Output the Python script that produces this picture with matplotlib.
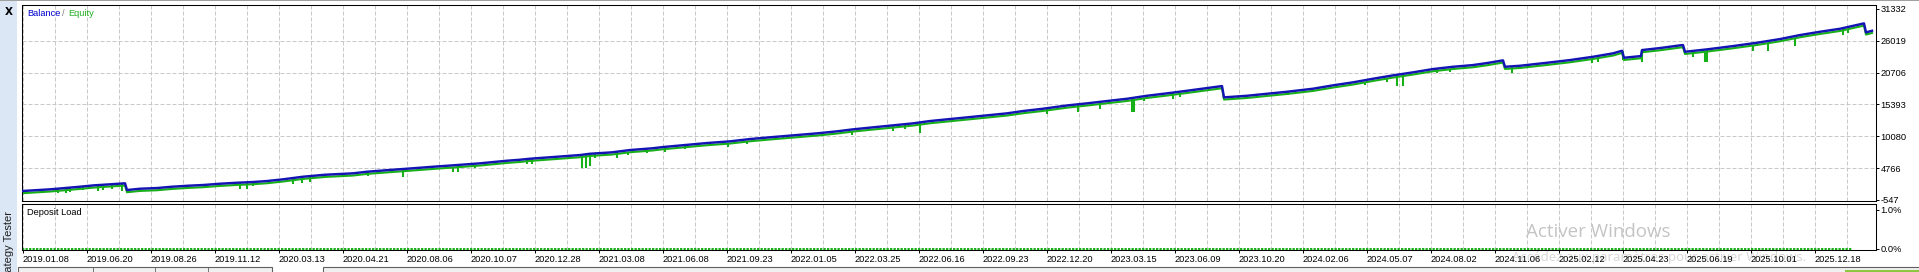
import numpy as np
import matplotlib.pyplot as plt
import matplotlib.transforms as mtransforms
from matplotlib.patches import Rectangle

W, H = 1919, 272

# balance curve: deal index -> account balance
bal_idx = [0, 28, 43, 58, 72, 88, 103, 105, 118, 135, 150, 166, 181, 198, 215, 231,
           245, 261, 281, 303, 331, 345, 371, 385, 411, 435, 458, 485, 498, 508, 531,
           558, 568, 590, 608, 630, 641, 663, 685, 708, 728, 751, 775, 795, 815, 831,
           851, 871, 891, 908, 925, 945, 965, 985, 1001, 1021, 1046, 1065, 1085, 1105,
           1125, 1145, 1165, 1185, 1200, 1202, 1225, 1245, 1265, 1291, 1311, 1331,
           1351, 1371, 1391, 1411, 1431, 1451, 1465, 1481, 1483, 1498, 1525, 1548,
           1571, 1591, 1600, 1602, 1619, 1620, 1638, 1658, 1661, 1663, 1685, 1711,
           1735, 1758, 1778, 1798, 1818, 1842, 1844, 1850]
bal_val = [920, 1205, 1420, 1640, 1870, 2040, 2210, 1090, 1305, 1420, 1640, 1805, 1925,
           2140, 2305, 2425, 2590, 2875, 3310, 3640, 3875, 4145, 4475, 4645, 4975, 5260,
           5545, 5980, 6145, 6315, 6595, 6930, 7145, 7380, 7765, 8050, 8265, 8600, 8935,
           9215, 9600, 9935, 10270, 10550, 10885, 11220, 11555, 11885, 12220, 12605,
           12890, 13220, 13555, 13890, 14275, 14660, 15225, 15560, 15945, 16325, 16825,
           17230, 17660, 18110, 18445, 16560, 16825, 17160, 17495, 18000, 18565, 19065,
           19665, 20230, 20735, 21285, 21665, 21950, 22285, 22735, 21665, 21835, 22335,
           22785, 23335, 23905, 24340, 23170, 23455, 24455, 24790, 25240, 25290, 24170,
           24570, 25120, 25675, 26290, 26960, 27510, 28010, 28910, 27410, 27675]

# equity drawdown spikes: deal index -> lowest equity
dip_idx = [36, 44, 48, 61, 76, 81, 90, 100, 218, 225, 231, 271, 280, 288, 346, 381,
           431, 436, 453, 505, 510, 560, 564, 568, 573, 595, 606, 625, 643, 663, 706,
           725, 761, 830, 871, 883, 898, 1025, 1056, 1078, 1110, 1112, 1122, 1151, 1158,
           1216, 1266, 1343, 1365, 1375, 1381, 1415, 1428, 1490, 1505, 1570, 1576, 1601,
           1620, 1651, 1671, 1683, 1685, 1731, 1746, 1773, 1821, 1826, 1846]
dip_low = [671, 538, 755, 1089, 922, 1089, 1256, 922, 1205, 1205, 1756, 2090, 2340, 2424,
           3425, 3308, 4043, 4043, 4710, 5378, 5378, 4710, 4710, 5094, 6379, 6379, 6930,
           7214, 7381, 7932, 8315, 8766, 9601, 10218, 10986, 11219, 10552, 13723, 14057,
           14557, 14157, 14157, 15993, 16226, 16660, 16393, 16894, 18563, 19164, 18496,
           18496, 20666, 20833, 20566, 21400, 22235, 22502, 22786, 22402, 24571, 23337,
           22502, 22502, 24338, 24338, 25122, 26958, 27242, 26908]

deposit_idx = [0, 1830]
deposit_load = [0.0, 0.0]

y_ticks = [-547, 4766, 10080, 15393, 20706, 26019, 31332]
load_ticks = [0.0, 1.0]
load_labels = ['0.0%', '1.0%']
date_labels = ['2019.01.08', '2019.06.20', '2019.08.26', '2019.11.12', '2020.03.13',
               '2020.04.21', '2020.08.06', '2020.10.07', '2020.12.28', '2021.03.08',
               '2021.06.08', '2021.09.23', '2022.01.05', '2022.03.25', '2022.06.16',
               '2022.09.23', '2022.12.20', '2023.03.15', '2023.06.09', '2023.10.20',
               '2024.02.06', '2024.05.07', '2024.08.02', '2024.11.06', '2025.02.12',
               '2025.04.23', '2025.06.19', '2025.10.01', '2025.12.18']

n_deals = 1854
date_pos = [1 + 64 * i for i in range(len(date_labels))]
grid_pos = np.arange(1, n_deals, 32)

BLUE = '#1414b4'
GREEN = '#18b018'
GRID = '#c8c8c8'
dash = (0, (4, 2))

plt.rcParams['font.family'] = ['Liberation Sans', 'DejaVu Sans']
fig = plt.figure(figsize=(W / 100, H / 100), dpi=100)


def px_box(left, top, right, bottom):
    return [left / W, 1 - bottom / H, (right - left) / W, (bottom - top) / H]


# window chrome
bg = fig.add_axes([0, 0, 1, 1], zorder=0)
bg.set_xlim(0, W)
bg.set_ylim(H, 0)
bg.axis('off')
bg.add_patch(Rectangle((0, 0), 17, H, color='#dbe7f5', lw=0))
bg.add_patch(Rectangle((0, 0), W, 1.2, color='#a0a0a0', lw=0))
bg.text(8.5, 12, 'X', ha='center', va='center', fontsize=7.5, weight='bold',
        family='DejaVu Sans')
bg.text(9, 211, 'Strategy Tester', rotation=90, ha='center', va='top', fontsize=8,
        color='#202020')
bg.add_patch(Rectangle((18, 267), 254, 8, facecolor='#f0f0f0', edgecolor='#606060', lw=0.8))
bg.add_patch(Rectangle((323, 267), 1600, 8, facecolor='#f0f0f0', edgecolor='#606060', lw=0.8))
for xd in [93, 155, 208]:
    bg.plot([xd, xd], [267, 272], color='#606060', lw=0.6)
bg.add_patch(Rectangle((1845, 270), 74, 3, color='#8dc63f', lw=0))

# balance / equity panel
ax = fig.add_axes(px_box(22, 5, 1876, 201), zorder=1)
ax.set_xlim(0, n_deals)
ax.set_ylim(-743, 31979)
for x in grid_pos:
    ax.axvline(x, color=GRID, lw=0.72, ls=dash, zorder=0)
for v in y_ticks[1:-1]:
    ax.axhline(v, color=GRID, lw=0.72, ls=dash, zorder=0)

# equity hugs the balance just underneath it, with dips for open drawdowns
below = mtransforms.offset_copy(ax.transData, fig=fig, x=0, y=-2.2, units='dots')
ax.plot(bal_idx, bal_val, color=GREEN, lw=1.5, transform=below, zorder=2)
pos = np.searchsorted(bal_idx, dip_idx, side='right') - 1
tops = np.array(bal_val)[pos]
ax.vlines(dip_idx, dip_low, tops, color=GREEN, lw=1.5, zorder=2)
ax.plot(bal_idx, bal_val, color=BLUE, lw=1.75, zorder=3)

ax.set_xticks([])
ax.yaxis.tick_right()
ax.set_yticks(y_ticks)
ax.set_yticklabels([str(v) for v in y_ticks])
ax.tick_params(axis='y', direction='out', length=2.2, width=0.7, pad=1.2, labelsize=6.7)
for s in ax.spines.values():
    s.set_linewidth(0.75)

t1 = ax.annotate('Balance', xy=(0, 1), xycoords='axes fraction', xytext=(5, -4),
                 textcoords='offset pixels', ha='left', va='top', fontsize=6.7,
                 color='#0000cc')
t2 = ax.annotate('/', xy=(1, 0), xycoords=t1, xytext=(2, 0), textcoords='offset pixels',
                 ha='left', va='bottom', fontsize=6.7, color='#808080')
ax.annotate('Equity', xy=(1, 0), xycoords=t2, xytext=(3.5, 0), textcoords='offset pixels',
            ha='left', va='bottom', fontsize=6.7, color='#22b022')

# deposit load panel
ax2 = fig.add_axes(px_box(22, 204, 1876, 250), zorder=1)
ax2.set_xlim(0, n_deals)
ax2.set_ylim(-0.03, 1.15)
for x in grid_pos:
    ax2.axvline(x, color=GRID, lw=0.72, ls=dash, zorder=0)
ax2.plot(deposit_idx, deposit_load, color=GREEN, lw=1.4, ls=(0, (1.2, 0.6)))
ax2.set_xticks(date_pos)
ax2.set_xticklabels(date_labels, ha='left')
shift = mtransforms.ScaledTranslation(1.5 / 100, 0, fig.dpi_scale_trans)
for lbl in ax2.get_xticklabels():
    lbl.set_transform(lbl.get_transform() + shift)
ax2.yaxis.tick_right()
ax2.set_yticks(load_ticks)
ax2.set_yticklabels(load_labels)
ax2.tick_params(axis='both', direction='out', length=2.2, width=0.7, pad=1.2, labelsize=6.7)
for s in ax2.spines.values():
    s.set_linewidth(0.75)
ax2.annotate('Deposit Load', xy=(0, 1), xycoords='axes fraction', xytext=(5, -4),
             textcoords='offset pixels', ha='left', va='top', fontsize=6.7, color='black')

# windows watermark
fig.text(1526 / W, 1 - 232 / H, 'Activer Windows', family='Open Sans', fontsize=13.5,
         color='#c4c4c4', ha='left', va='center', zorder=10)
fig.text(1512 / W, 1 - 257 / H, 'Accédez aux paramètres pour activer Windows.',
         family='Open Sans', fontsize=9.5, color='#d6d6d6', ha='left', va='center',
         zorder=0.5)

fig.savefig('out.png', dpi=100)
